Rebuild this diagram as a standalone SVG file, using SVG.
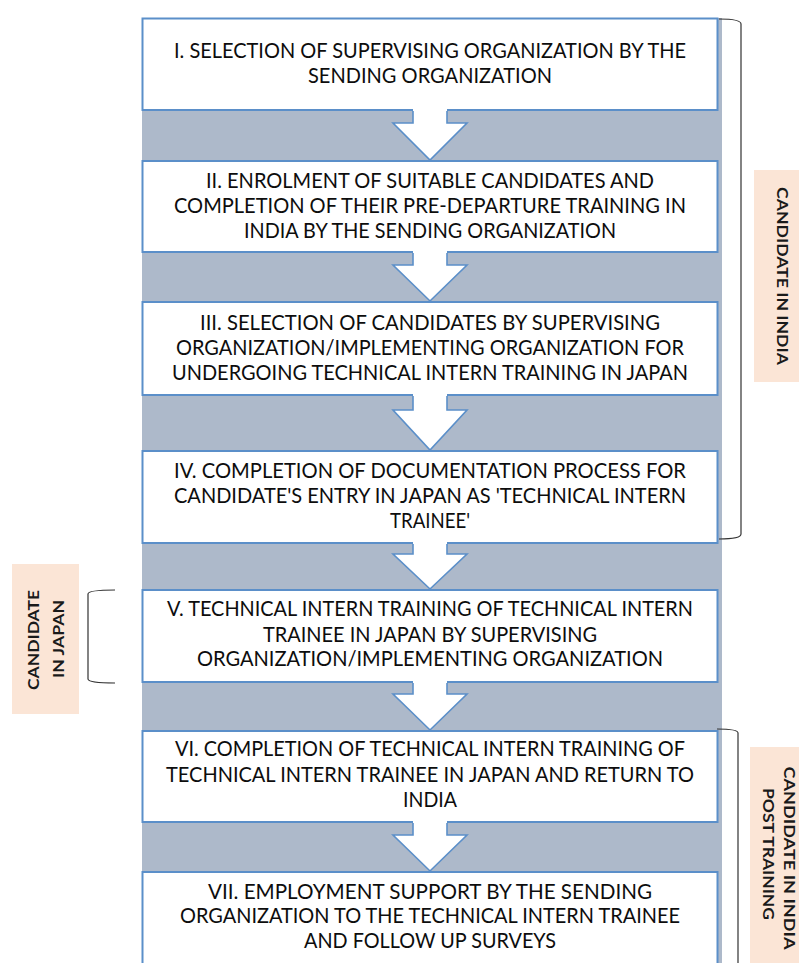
<svg xmlns="http://www.w3.org/2000/svg" width="799" height="963" viewBox="0 0 799 963">
  <style>
    .step { fill: #ffffff; stroke: #5b8fc9; stroke-width: 2; }
    .txt { font-family: Lato, "Open Sans", "Liberation Sans", sans-serif; font-size: 20.5px; fill: #0d0d0d; text-anchor: middle; }
    .lbl { fill: #fbe5d6; }
    .lbltxt { font-family: Lato, "Open Sans", "Liberation Sans", sans-serif; font-size: 16px; font-weight: bold; fill: #1a1a1a; text-anchor: middle; }
    .arrow-fill { fill: #ffffff; }
    .arrow-edge { fill: none; stroke: #5b8fc9; stroke-width: 1.6; stroke-linejoin: miter; }
    .brace { fill: none; stroke: #333333; stroke-width: 1.2; }
  </style>

  <rect x="0" y="0" width="799" height="963" fill="#ffffff"/>

  <!-- backdrop column behind the process steps -->
  <rect x="142" y="18" width="580" height="945" fill="#adb9ca"/>

  <!-- process steps -->
  <g id="step1">
    <rect class="step" x="142.5" y="18.5" width="575" height="91.5"/>
    <text class="txt" x="430" y="58" textLength="512" lengthAdjust="spacingAndGlyphs">I. SELECTION OF SUPERVISING ORGANIZATION BY THE</text>
    <text class="txt" x="430" y="83" textLength="244" lengthAdjust="spacingAndGlyphs">SENDING ORGANIZATION</text>
  </g>
  <g id="step2">
    <rect class="step" x="142.5" y="161" width="575" height="91"/>
    <text class="txt" x="430" y="188" textLength="448" lengthAdjust="spacingAndGlyphs">II. ENROLMENT OF SUITABLE CANDIDATES AND</text>
    <text class="txt" x="430" y="213" textLength="512" lengthAdjust="spacingAndGlyphs">COMPLETION OF THEIR PRE-DEPARTURE TRAINING IN</text>
    <text class="txt" x="430" y="238" textLength="372" lengthAdjust="spacingAndGlyphs">INDIA BY THE SENDING ORGANIZATION</text>
  </g>
  <g id="step3">
    <rect class="step" x="142.5" y="302" width="575" height="93"/>
    <text class="txt" x="430" y="330" textLength="460" lengthAdjust="spacingAndGlyphs">III. SELECTION OF CANDIDATES BY SUPERVISING</text>
    <text class="txt" x="430" y="355" textLength="508" lengthAdjust="spacingAndGlyphs">ORGANIZATION/IMPLEMENTING ORGANIZATION FOR</text>
    <text class="txt" x="430" y="380" textLength="516" lengthAdjust="spacingAndGlyphs">UNDERGOING TECHNICAL INTERN TRAINING IN JAPAN</text>
  </g>
  <g id="step4">
    <rect class="step" x="142.5" y="451" width="575" height="92"/>
    <text class="txt" x="430" y="478" textLength="512" lengthAdjust="spacingAndGlyphs">IV. COMPLETION OF DOCUMENTATION PROCESS FOR</text>
    <text class="txt" x="430" y="503" textLength="512" lengthAdjust="spacingAndGlyphs">CANDIDATE'S ENTRY IN JAPAN AS 'TECHNICAL INTERN</text>
    <text class="txt" x="430" y="528" textLength="80" lengthAdjust="spacingAndGlyphs">TRAINEE'</text>
  </g>
  <g id="step5">
    <rect class="step" x="142.5" y="590" width="575" height="92"/>
    <text class="txt" x="430" y="616" textLength="526" lengthAdjust="spacingAndGlyphs">V. TECHNICAL INTERN TRAINING OF TECHNICAL INTERN</text>
    <text class="txt" x="430" y="642" textLength="334" lengthAdjust="spacingAndGlyphs">TRAINEE IN JAPAN BY SUPERVISING</text>
    <text class="txt" x="430" y="666" textLength="466" lengthAdjust="spacingAndGlyphs">ORGANIZATION/IMPLEMENTING ORGANIZATION</text>
  </g>
  <g id="step6">
    <rect class="step" x="142.5" y="731" width="575" height="91"/>
    <text class="txt" x="430" y="756" textLength="510" lengthAdjust="spacingAndGlyphs">VI. COMPLETION OF TECHNICAL INTERN TRAINING OF</text>
    <text class="txt" x="430" y="782" textLength="528" lengthAdjust="spacingAndGlyphs">TECHNICAL INTERN TRAINEE IN JAPAN AND RETURN TO</text>
    <text class="txt" x="430" y="807" textLength="54" lengthAdjust="spacingAndGlyphs">INDIA</text>
  </g>
  <g id="step7">
    <rect class="step" x="142.5" y="872" width="575" height="93"/>
    <text class="txt" x="430" y="899" textLength="444" lengthAdjust="spacingAndGlyphs">VII. EMPLOYMENT SUPPORT BY THE SENDING</text>
    <text class="txt" x="430" y="923" textLength="500" lengthAdjust="spacingAndGlyphs">ORGANIZATION TO THE TECHNICAL INTERN TRAINEE</text>
    <text class="txt" x="430" y="948" textLength="252" lengthAdjust="spacingAndGlyphs">AND FOLLOW UP SURVEYS</text>
  </g>

  <!-- block arrows linking consecutive steps -->
  <g id="connectors">
    <g id="a1">
      <polygon class="arrow-fill" points="413,108 413,123 393,123 430,160 467,123 447,123 447,108"/>
      <polyline class="arrow-edge" points="413,111 413,123 393,123 430,160 467,123 447,123 447,111"/>
    </g>
    <g id="a2">
      <polygon class="arrow-fill" points="413,250 413,265 393,265 430,301 467,265 447,265 447,250"/>
      <polyline class="arrow-edge" points="413,253 413,265 393,265 430,301 467,265 447,265 447,253"/>
    </g>
    <g id="a3">
      <polygon class="arrow-fill" points="413,393 413,410 393,410 430,450 467,410 447,410 447,393"/>
      <polyline class="arrow-edge" points="413,396 413,410 393,410 430,450 467,410 447,410 447,396"/>
    </g>
    <g id="a4">
      <polygon class="arrow-fill" points="413,541 413,554 393,554 430,589 467,554 447,554 447,541"/>
      <polyline class="arrow-edge" points="413,544 413,554 393,554 430,589 467,554 447,554 447,544"/>
    </g>
    <g id="a5">
      <polygon class="arrow-fill" points="413,680 413,694 393,694 430,730 467,694 447,694 447,680"/>
      <polyline class="arrow-edge" points="413,683 413,694 393,694 430,730 467,694 447,694 447,683"/>
    </g>
    <g id="a6">
      <polygon class="arrow-fill" points="413,820 413,835 393,835 430,871 467,835 447,835 447,820"/>
      <polyline class="arrow-edge" points="413,823 413,835 393,835 430,871 467,835 447,835 447,823"/>
    </g>
  </g>

  <!-- phase brackets -->
  <g id="brace-india">
    <path class="brace" d="M719,19 Q741,19 741,24 L741,534 Q741,539 719,539"/>
  </g>
  <g id="brace-japan">
    <path class="brace" d="M115,590 Q88,590 88,594 L88,679 Q88,683 115,683"/>
  </g>
  <g id="brace-post">
    <path class="brace" d="M717,729 Q738,729 738,733 L738,963"/>
  </g>

  <!-- phase labels -->
  <g id="label-india">
    <rect class="lbl" x="754" y="170" width="45" height="212"/>
    <text class="lbltxt" transform="translate(777,276) rotate(90)" textLength="178" lengthAdjust="spacingAndGlyphs">CANDIDATE IN INDIA</text>
  </g>
  <g id="label-japan">
    <rect class="lbl" x="12" y="564" width="67" height="150"/>
    <text class="lbltxt" transform="translate(39,640) rotate(-90)" textLength="100" lengthAdjust="spacingAndGlyphs">CANDIDATE</text>
    <text class="lbltxt" transform="translate(64,639) rotate(-90)" textLength="78" lengthAdjust="spacingAndGlyphs">IN JAPAN</text>
  </g>
  <g id="label-post">
    <rect class="lbl" x="750" y="747" width="49" height="216"/>
    <text class="lbltxt" transform="translate(784,858) rotate(90)" textLength="183" lengthAdjust="spacingAndGlyphs">CANDIDATE IN INDIA</text>
    <text class="lbltxt" transform="translate(763,854) rotate(90)" textLength="132" lengthAdjust="spacingAndGlyphs">POST TRAINING</text>
  </g>
</svg>
